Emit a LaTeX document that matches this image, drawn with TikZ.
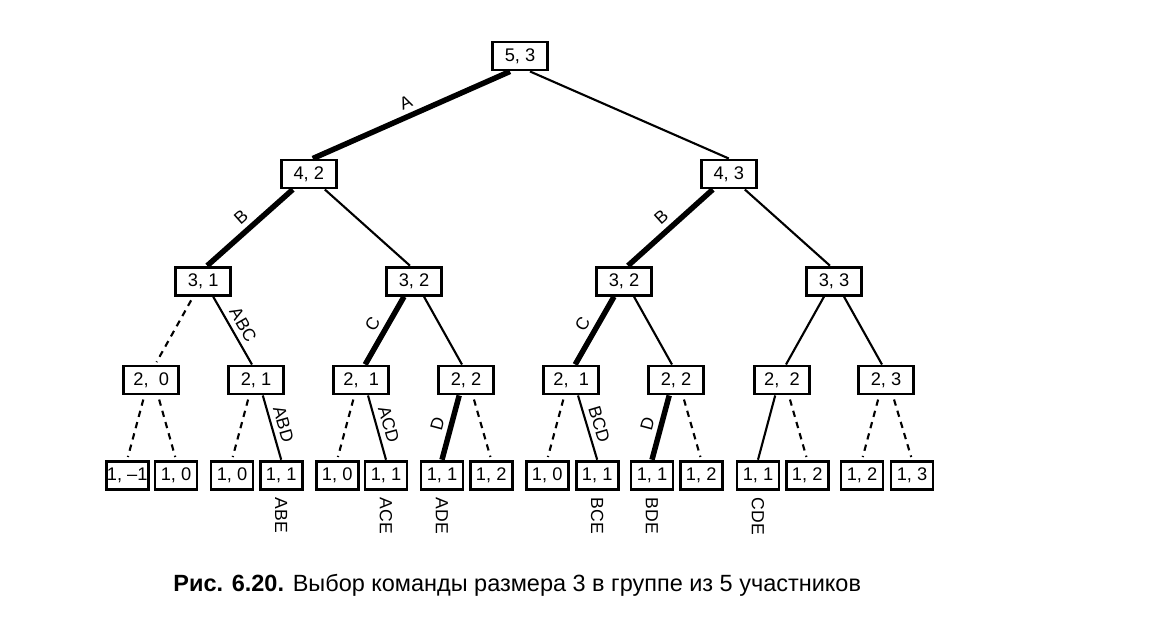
\documentclass[tikz,border=0pt]{standalone}
\usepackage{fontspec}
\setmainfont{Liberation Sans}
\begin{document}
\begin{tikzpicture}[
  box/.style={draw, line width=2.1pt, minimum width=1.375cm, minimum height=0.7cm, inner sep=0pt, font=\fontsize{13}{15}\selectfont},
  leaf/.style={box, minimum width=1.05cm},
  edge/.style={line width=1.5pt},
  pick/.style={line width=3.9pt},
  skip/.style={line width=1.5pt, dash pattern=on 4.5pt off 3.8pt, shorten <=3pt, shorten >=2pt},
  lbl/.style={font=\fontsize{12.5}{14}\selectfont, inner sep=3.5pt},
  team/.style={lbl, inner sep=2pt, rotate=-90, anchor=west}
]
\useasboundingbox (0,0) rectangle (28.8,-15.6);

% levels of the tree
\node[box] (r53) at (13.00,-1.40) {5, 3};
\node[box] (n42) at (7.72,-4.35) {4, 2};
\node[box] (n43) at (18.22,-4.35) {4, 3};

\node[box] (n31) at (5.08,-7.03) {3, 1};
\node[box] (n32a) at (10.35,-7.03) {3, 2};
\node[box] (n32b) at (15.60,-7.03) {3, 2};
\node[box] (n33) at (20.85,-7.03) {3, 3};

\node[box] (n20) at (3.78,-9.50) {2,\ \ 0};
\node[box] (n21a) at (6.40,-9.50) {2, 1};
\node[box] (n21b) at (9.03,-9.50) {2,\ \ 1};
\node[box] (n22a) at (11.65,-9.50) {2, 2};
\node[box] (n21c) at (14.28,-9.50) {2,\ \ 1};
\node[box] (n22b) at (16.90,-9.50) {2, 2};
\node[box] (n22c) at (19.55,-9.50) {2,\ \ 2};
\node[box] (n23) at (22.15,-9.50) {2, 3};

\node[leaf] (m1a) at (3.18,-11.88) {1, --1};
\node[leaf] (m10a) at (4.40,-11.88) {1, 0};
\node[leaf] (m10b) at (5.80,-11.88) {1, 0};
\node[leaf] (m11a) at (7.03,-11.88) {1, 1};
\node[leaf] (m10c) at (8.43,-11.88) {1, 0};
\node[leaf] (m11b) at (9.65,-11.88) {1, 1};
\node[leaf] (m11c) at (11.05,-11.88) {1, 1};
\node[leaf] (m12a) at (12.28,-11.88) {1, 2};
\node[leaf] (m10d) at (13.68,-11.88) {1, 0};
\node[leaf] (m11d) at (14.93,-11.88) {1, 1};
\node[leaf] (m11e) at (16.30,-11.88) {1, 1};
\node[leaf] (m12b) at (17.53,-11.88) {1, 2};
\node[leaf] (m11f) at (18.95,-11.88) {1, 1};
\node[leaf] (m12c) at (20.18,-11.88) {1, 2};
\node[leaf] (m12d) at (21.55,-11.88) {1, 2};
\node[leaf] (m13) at (22.80,-11.88) {1, 3};

% branches
\draw[pick] ([xshift=-0.25cm]r53.south) -- ([xshift=0.1cm]n42.north) node[lbl, midway, sloped, above] {A};
\draw[edge] ([xshift=0.25cm]r53.south) -- (n43.north);

\draw[pick] ([xshift=-0.4cm]n42.south) -- ([xshift=0.1cm]n31.north) node[lbl, midway, sloped, above] {B};
\draw[edge] ([xshift=0.4cm]n42.south) -- ([xshift=-0.1cm]n32a.north);
\draw[pick] ([xshift=-0.4cm]n43.south) -- ([xshift=0.1cm]n32b.north) node[lbl, midway, sloped, above] {B};
\draw[edge] ([xshift=0.4cm]n43.south) -- ([xshift=-0.1cm]n33.north);

\draw[skip] ([xshift=-0.25cm]n31.south) -- ([xshift=0.1cm]n20.north);
\draw[edge] ([xshift=0.25cm]n31.south) -- ([xshift=-0.1cm]n21a.north) node[lbl, midway, sloped, above] {ABC};
\draw[pick] ([xshift=-0.25cm]n32a.south) -- ([xshift=0.1cm]n21b.north) node[lbl, midway, sloped, above] {C};
\draw[edge] ([xshift=0.25cm]n32a.south) -- ([xshift=-0.1cm]n22a.north);
\draw[pick] ([xshift=-0.25cm]n32b.south) -- ([xshift=0.1cm]n21c.north) node[lbl, midway, sloped, above] {C};
\draw[edge] ([xshift=0.25cm]n32b.south) -- ([xshift=-0.1cm]n22b.north);
\draw[edge] ([xshift=-0.25cm]n33.south) -- ([xshift=0.1cm]n22c.north);
\draw[edge] ([xshift=0.25cm]n33.south) -- ([xshift=-0.1cm]n23.north);

\draw[skip] ([xshift=-0.17cm]n20.south) -- (m1a.north);
\draw[skip] ([xshift=0.17cm]n20.south) -- (m10a.north);
\draw[skip] ([xshift=-0.17cm]n21a.south) -- (m10b.north);
\draw[edge] ([xshift=0.17cm]n21a.south) -- (m11a.north) node[lbl, midway, sloped, above] {ABD};
\draw[skip] ([xshift=-0.17cm]n21b.south) -- (m10c.north);
\draw[edge] ([xshift=0.17cm]n21b.south) -- (m11b.north) node[lbl, midway, sloped, above] {ACD};
\draw[pick] ([xshift=-0.17cm]n22a.south) -- (m11c.north) node[lbl, midway, sloped, above] {D};
\draw[skip] ([xshift=0.17cm]n22a.south) -- (m12a.north);
\draw[skip] ([xshift=-0.17cm]n21c.south) -- (m10d.north);
\draw[edge] ([xshift=0.17cm]n21c.south) -- (m11d.north) node[lbl, midway, sloped, above] {BCD};
\draw[pick] ([xshift=-0.17cm]n22b.south) -- (m11e.north) node[lbl, midway, sloped, above] {D};
\draw[skip] ([xshift=0.17cm]n22b.south) -- (m12b.north);
\draw[edge] ([xshift=-0.17cm]n22c.south) -- (m11f.north);
\draw[skip] ([xshift=0.17cm]n22c.south) -- (m12c.north);
\draw[skip] ([xshift=-0.17cm]n23.south) -- (m12d.north);
\draw[skip] ([xshift=0.17cm]n23.south) -- (m13.north);

% chosen teams
\node[team] (tabe) at ([yshift=-0.1cm]m11a.south) {ABE};
\node[team] (tace) at ([yshift=-0.1cm]m11b.south) {ACE};
\node[team] (tade) at ([yshift=-0.1cm]m11c.south) {ADE};
\node[team] (tbce) at ([yshift=-0.1cm]m11d.south) {BCE};
\node[team] (tbde) at ([yshift=-0.1cm]m11e.south) {BDE};
\node[team] (tcde) at ([yshift=-0.1cm]m11f.south) {CDE};

\node[anchor=west, inner sep=0pt, font=\fontsize{16.7}{19}\selectfont] (cap) at (4.33,-14.63)
  {\textbf{Рис. 6.20.} Выбор команды размера 3 в группе из 5 участников};
\end{tikzpicture}
\end{document}
